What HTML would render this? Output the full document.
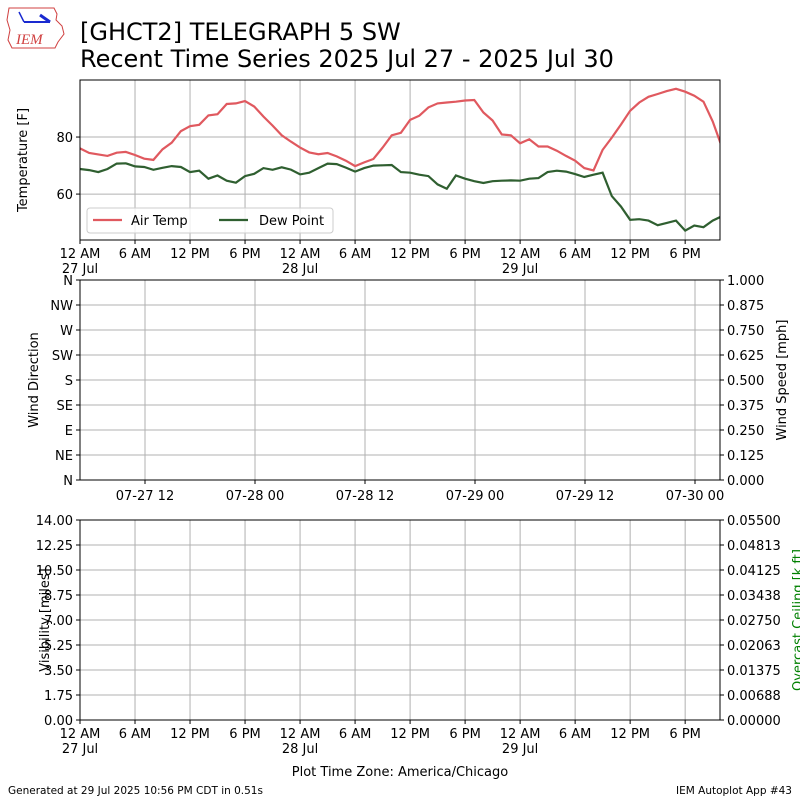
<!DOCTYPE html>
<html><head><meta charset="utf-8"><style>
body{margin:0;background:#fff}
svg{display:block;font-family:"DejaVu Sans","Liberation Sans",sans-serif}
</style></head><body>
<svg id="chart" width="800" height="800" viewBox="0 0 800 800" xmlns="http://www.w3.org/2000/svg">
<g>
<path d="M9,8 L54,8 L57,14 L56,20 L62,26 L64,34 L58,42 L55,48 L12,48 L8,40 L10,30 L7,20 Z" fill="none" stroke="#d04040" stroke-width="1"/>
<line x1="24" y1="22" x2="50" y2="22" stroke="#1a2ad0" stroke-width="2"/>
<line x1="19" y1="12" x2="24" y2="22" stroke="#1a2ad0" stroke-width="1.5"/>
<line x1="40" y1="15" x2="50" y2="22" stroke="#1a2ad0" stroke-width="3"/>
<text x="16" y="44" font-family="Liberation Serif,serif" font-style="italic" font-size="15" fill="#d04040">IEM</text>
</g>
<text x="80" y="40" font-size="24" fill="#000">[GHCT2] TELEGRAPH 5 SW</text>
<text x="80" y="67" font-size="24" fill="#000">Recent Time Series 2025 Jul 27 - 2025 Jul 30</text>
<g id="p1"></g><g id="p2"></g><g id="p3"></g>
<text x="400" y="776" font-size="13" text-anchor="middle">Plot Time Zone: America/Chicago</text>
<text x="8" y="794" font-size="10.5">Generated at 29 Jul 2025 10:56 PM CDT in 0.51s</text>
<text x="792" y="794" font-size="10.5" text-anchor="end">IEM Autoplot App #43</text>
</svg>
<script>
const hours = [0,1,2,3,4,5,6,7,8,9,10,11,12,13,14,15,16,17,18,19,20,21,22,23,24,25,26,27,28,29,30,31,32,33,34,35,36,37,38,39,40,41,42,43,44,45,46,47,48,49,50,51,52,53,54,55,56,57,58,59,60,61,62,63,64,65,66,67,68,69,70];
const airTemp = [76.0,74.4,73.9,73.4,74.5,74.8,73.7,72.4,72.0,75.7,78.0,82.1,83.8,84.3,87.6,88.0,91.6,91.8,92.6,90.7,87.2,84.0,80.6,78.4,76.3,74.6,74.0,74.4,73.2,71.7,69.8,71.1,72.3,76.3,80.6,81.5,86.0,87.5,90.4,91.8,92.1,92.4,92.8,93.0,88.6,85.8,80.9,80.6,77.8,79.2,76.7,76.7,75.2,73.4,71.7,69.1,68.3,75.5,79.8,84.4,89.2,92.1,94.1,95.1,96.1,96.9,95.9,94.5,92.4,85.5,76.6];
const dewPoint = [68.8,68.4,67.7,68.8,70.7,70.8,69.7,69.5,68.5,69.2,69.8,69.5,67.7,68.2,65.4,66.5,64.7,64.0,66.3,67.1,69.1,68.5,69.4,68.6,66.9,67.5,69.1,70.7,70.5,69.3,67.9,69.1,70.0,70.1,70.2,67.7,67.5,66.8,66.3,63.4,61.9,66.5,65.4,64.5,63.9,64.5,64.7,64.8,64.7,65.4,65.6,67.7,68.2,67.9,67.0,66.0,66.8,67.5,59.3,55.6,51.0,51.2,50.7,49.1,49.9,50.7,47.2,49.0,48.4,50.7,52.2];
const timeTickLabels = ["12 AM","6 AM","12 PM","6 PM","12 AM","6 AM","12 PM","6 PM","12 AM","6 AM","12 PM","6 PM"];
const timeTickDates = ["27 Jul","","","","28 Jul","","","","29 Jul","","",""];
const tempTicks = [60,80];
const dirTicks = ["N","NE","E","SE","S","SW","W","NW","N"];
const speedTicks = ["0.000","0.125","0.250","0.375","0.500","0.625","0.750","0.875","1.000"];
const windDateTicks = ["07-27 12","07-28 00","07-28 12","07-29 00","07-29 12","07-30 00"];
const visTicks = ["0.00","1.75","3.50","5.25","7.00","8.75","10.50","12.25","14.00"];
const ceilTicks = ["0.00000","0.00688","0.01375","0.02063","0.02750","0.03438","0.04125","0.04813","0.05500"];

const NS="http://www.w3.org/2000/svg";
const L=80,R=720;
function el(parent,tag,attrs,text){const e=document.createElementNS(NS,tag);for(const k in attrs)e.setAttribute(k,attrs[k]);if(text!==undefined)e.textContent=text;parent.appendChild(e);return e;}
const xDomain=[0,69.8];
function xs(h){return L+(h-xDomain[0])/(xDomain[1]-xDomain[0])*(R-L);}

// Panel 1
const p1=document.getElementById('p1');
const T1=80,B1=240,tMin=43.9,tMax=100;
function ys(t){return B1-(t-tMin)/(tMax-tMin)*(B1-T1);}
function timeAxis(g,bottom,withLabels){
  timeTickLabels.forEach((lab,i)=>{
    const x=xs(i*6);
    const gl=el(g,'line',{x1:x,x2:x,y1:bottom-(bottom===B1?160:200),y2:bottom,stroke:'#b0b0b0','stroke-width':1});
    
    
    el(g,'line',{x1:x,x2:x,y1:bottom,y2:bottom+4,stroke:'#000'});
    if(withLabels){
      const t=el(g,'text',{x:x,y:bottom+18,'font-size':13,'text-anchor':'middle'},lab);
      
      
      if(timeTickDates[i]){const d=el(g,'text',{x:x,y:bottom+33,'font-size':13,'text-anchor':'middle'},timeTickDates[i]);
        
        }
    }
  });
}
timeAxis(p1,B1,true);
tempTicks.forEach(t=>{const y=ys(t);
  el(p1,'line',{x1:L,x2:R,y1:y,y2:y,stroke:'#b0b0b0'});
  el(p1,'line',{x1:L-4,x2:L,y1:y,y2:y,stroke:'#000'});
  const tx=el(p1,'text',{x:L-7,y:y+5,'font-size':13,'text-anchor':'end'},t);
  
  
});
function series(vals,color,name){
  const d=vals.map((v,i)=>(i?'L':'M')+xs(hours[i]).toFixed(1)+','+ys(v).toFixed(1)).join(' ');
  const p=el(p1,'path',{d:d,fill:'none',stroke:color,'stroke-width':2.2,'clip-path':'url(#c1)'});
  
  
}
const defs=el(p1,'defs',{});const cp=el(defs,'clipPath',{id:'c1'});el(cp,'rect',{x:L,y:T1,width:R-L,height:B1-T1});
series(airTemp,'#e0595f','air-temp-line');
series(dewPoint,'#2f5f30','dew-point-line');
el(p1,'rect',{x:L,y:T1,width:R-L,height:B1-T1,fill:'none',stroke:'#000'});
const yt1=el(p1,'text',{x:0,y:0,'font-size':13,'text-anchor':'middle',transform:`translate(27,${(T1+B1)/2}) rotate(-90)`},'Temperature [F]');


const lg=el(p1,'g',{});


el(lg,'rect',{x:87,y:208,width:246,height:25,rx:3,fill:'#fff','fill-opacity':0.8,stroke:'#ccc'});
el(lg,'line',{x1:93,x2:122,y1:220,y2:220,stroke:'#e0595f','stroke-width':2.2});
el(lg,'text',{x:131,y:225,'font-size':13},'Air Temp');
el(lg,'line',{x1:219,x2:248,y1:220,y2:220,stroke:'#2f5f30','stroke-width':2.2});
el(lg,'text',{x:259,y:225,'font-size':13},'Dew Point');

// Panel 2
const p2=document.getElementById('p2');
const T2=280,B2=480;
dirTicks.forEach((lab,i)=>{const y=B2-i*25;
  el(p2,'line',{x1:L,x2:R,y1:y,y2:y,stroke:'#b0b0b0'});
  el(p2,'line',{x1:L-4,x2:L,y1:y,y2:y,stroke:'#000'});
  const t=el(p2,'text',{x:L-7,y:y+5,'font-size':13,'text-anchor':'end'},lab);
  
  
  el(p2,'line',{x1:R,x2:R+4,y1:y,y2:y,stroke:'#000'});
  const s=el(p2,'text',{x:R+7,y:y+5,'font-size':13},speedTicks[i]);
  
  
});
windDateTicks.forEach((lab,i)=>{const x=145+i*110;
  el(p2,'line',{x1:x,x2:x,y1:T2,y2:B2,stroke:'#b0b0b0'});
  el(p2,'line',{x1:x,x2:x,y1:B2,y2:B2+4,stroke:'#000'});
  const t=el(p2,'text',{x:x,y:B2+20,'font-size':13,'text-anchor':'middle'},lab);
  
  
});
el(p2,'rect',{x:L,y:T2,width:R-L,height:B2-T2,fill:'none',stroke:'#000'});
const yt2=el(p2,'text',{x:0,y:0,'font-size':13,'text-anchor':'middle',transform:`translate(38,${(T2+B2)/2}) rotate(-90)`},'Wind Direction');


const yt2r=el(p2,'text',{x:0,y:0,'font-size':13,'text-anchor':'middle',transform:`translate(786,${(T2+B2)/2}) rotate(-90)`},'Wind Speed [mph]');



// Panel 3
const p3=document.getElementById('p3');
const T3=520,B3=720;
visTicks.forEach((lab,i)=>{const y=B3-i*25;
  el(p3,'line',{x1:L,x2:R,y1:y,y2:y,stroke:'#b0b0b0'});
  el(p3,'line',{x1:L-4,x2:L,y1:y,y2:y,stroke:'#000'});
  const t=el(p3,'text',{x:L-7,y:y+5,'font-size':13,'text-anchor':'end'},lab);
  
  
  el(p3,'line',{x1:R,x2:R+4,y1:y,y2:y,stroke:'#000'});
  const s=el(p3,'text',{x:R+7,y:y+5,'font-size':13},ceilTicks[i]);
  
  
});
timeAxis(p3,B3,true);
el(p3,'rect',{x:L,y:T3,width:R-L,height:B3-T3,fill:'none',stroke:'#000'});
const yt3=el(p3,'text',{x:0,y:0,'font-size':13,'text-anchor':'middle',transform:`translate(49,${(T3+B3)/2}) rotate(-90)`},'Visibility [miles]');


const yt3r=el(p3,'text',{x:0,y:0,'font-size':13,fill:'#008000','text-anchor':'middle',transform:`translate(802,${(T3+B3)/2}) rotate(-90)`},'Overcast Ceiling [k ft]');


</script>
</body></html>
